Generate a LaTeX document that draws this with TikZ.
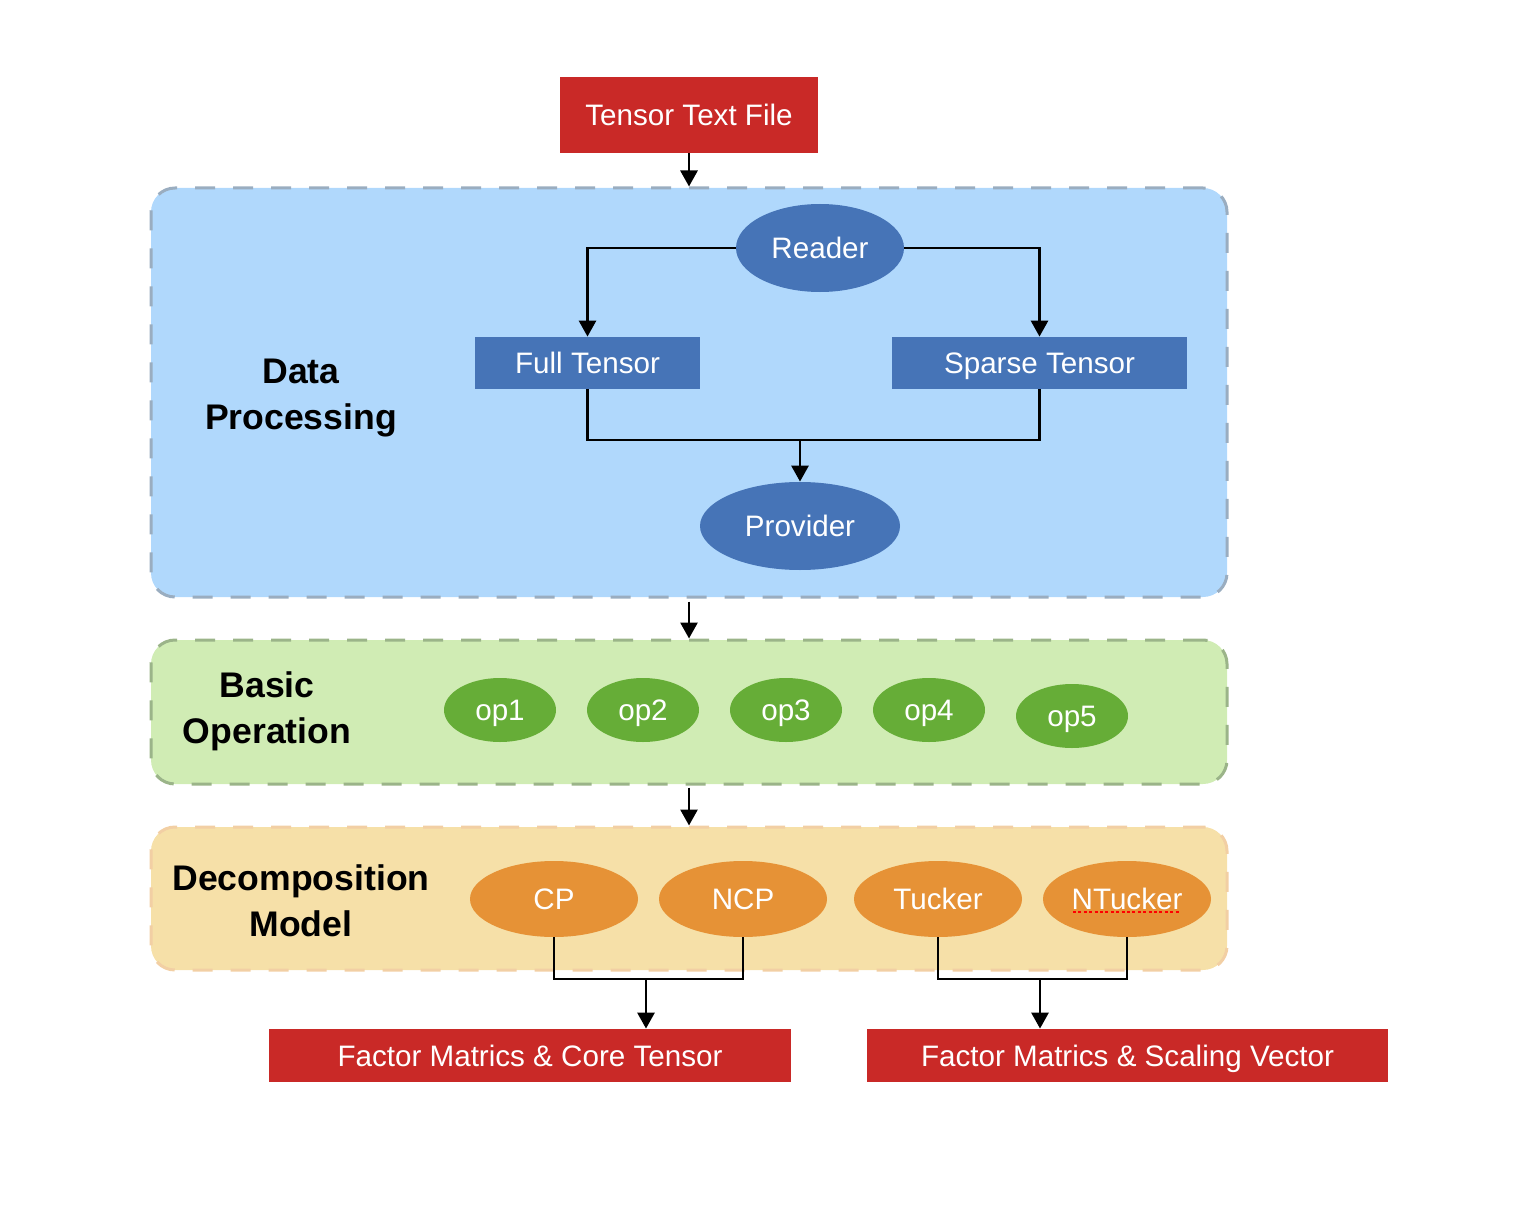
\documentclass[tikz,border=0pt]{standalone}
\usepackage{fontspec}
\setmainfont{Liberation Sans}
\usetikzlibrary{arrows.meta,shapes.geometric}
\definecolor{tred}{RGB}{201,41,39}
\definecolor{bfill}{RGB}{176,216,252}
\definecolor{bline}{RGB}{154,173,192}
\definecolor{bnode}{RGB}{70,116,183}
\definecolor{gfill}{RGB}{208,236,180}
\definecolor{gline}{RGB}{155,180,137}
\definecolor{gnode}{RGB}{102,173,55}
\definecolor{ofill}{RGB}{246,224,168}
\definecolor{oline}{RGB}{242,207,164}
\definecolor{onode}{RGB}{230,146,54}
\tikzset{
  panel/.style={rounded corners=12pt, line width=1.5pt, dash pattern=on 10pt off 9pt, minimum width=538pt, inner sep=0pt},
  nodetext/.style={text=white, inner sep=0pt, text height=10.6pt, text depth=0pt, font=\fontsize{14.8}{17}\selectfont},
  redbox/.style={nodetext, fill=tred},
  bluebox/.style={nodetext, fill=bnode, minimum height=26pt},
  blueell/.style={nodetext, ellipse, fill=bnode, minimum height=44pt},
  greenell/.style={nodetext, ellipse, fill=gnode, minimum width=56pt, minimum height=32pt},
  orangeell/.style={nodetext, ellipse, fill=onode, minimum width=84pt, minimum height=38pt},
  paneltitle/.style={align=center, font=\bfseries\fontsize{17.8}{23}\selectfont},
  conn/.style={line width=1.4pt, draw=black},
  arr/.style={conn, -{Triangle[length=8pt, width=8.5pt]}}
}
\begin{document}
\begin{tikzpicture}[x=0.5pt, y=-0.5pt]
\useasboundingbox (0,0) rectangle (1535,1214);
% panels
\node[panel, fill=bfill, draw=bline, minimum height=204.5pt] (dp) at (689,392.5) {};
\node[panel, fill=gfill, draw=gline, minimum height=72pt] (bo) at (689,712) {};
\node[panel, fill=ofill, draw=oline, minimum height=71.5pt] (dm) at (689,898.5) {};
% titles
\node[paneltitle] (tdp) at (301,398) {Data\\Processing};
\node[paneltitle] (tbo) at (267,711) {Basic\\Operation};
\node[paneltitle] (tdm) at (301,901) {Decomposition\\Model};
% top
\node[redbox, minimum width=129pt, minimum height=38pt] (ttf) at (689,115) {Tensor Text File};
% data processing nodes
\node[blueell, minimum width=84pt] (reader) at (820,248) {Reader};
\node[bluebox, minimum width=112.5pt] (full) at (587.5,363) {Full Tensor};
\node[bluebox, minimum width=147.5pt] (sparse) at (1039.5,363) {Sparse Tensor};
\node[blueell, minimum width=100pt] (prov) at (800,526) {Provider};
% ops
\node[greenell] (op1) at (500,710) {op1};
\node[greenell] (op2) at (643,710) {op2};
\node[greenell] (op3) at (786,710) {op3};
\node[greenell] (op4) at (929,710) {op4};
\node[greenell] (op5) at (1072,716) {op5};
% models
\node[orangeell] (cp) at (554,899) {CP};
\node[orangeell] (ncp) at (743,899) {NCP};
\node[orangeell] (tucker) at (938,899) {Tucker};
\node[orangeell] (ntucker) at (1127,899) {NTucker};
\draw[red, line width=1pt, dash pattern=on 1.5pt off 1.2pt] (1073,912) -- (1180,912);
% outputs
\node[redbox, minimum width=261pt, minimum height=26.5pt] (fm1) at (530,1055.5) {Factor Matrics \& Core Tensor};
\node[redbox, minimum width=260.5pt, minimum height=26.5pt] (fm2) at (1127.5,1055.5) {Factor Matrics \& Scaling Vector};
% connectors
\draw[arr] (ttf.south) -- (ttf.south |- dp.north);
\draw[arr] (reader.west) -| (full.north);
\draw[arr] (reader.east) -| (sparse.north);
\coordinate (j1) at (800,440);
\draw[conn] (full.south) |- (j1) -| (sparse.south);
\draw[arr] (j1) -- (prov.north);
\draw[arr] ([yshift=-1.5pt]dp.south) -- (bo.north);
\draw[arr] ([yshift=-1pt]bo.south) -- (dm.north);
\coordinate (j2) at (646,979);
\draw[conn] (cp.south) |- (j2) -| (ncp.south);
\draw[arr] (j2) -- (j2 |- fm1.north);
\coordinate (j3) at (1040,979);
\draw[conn] (tucker.south) |- (j3) -| (ntucker.south);
\draw[arr] (j3) -- (j3 |- fm2.north);
\end{tikzpicture}
\end{document}
